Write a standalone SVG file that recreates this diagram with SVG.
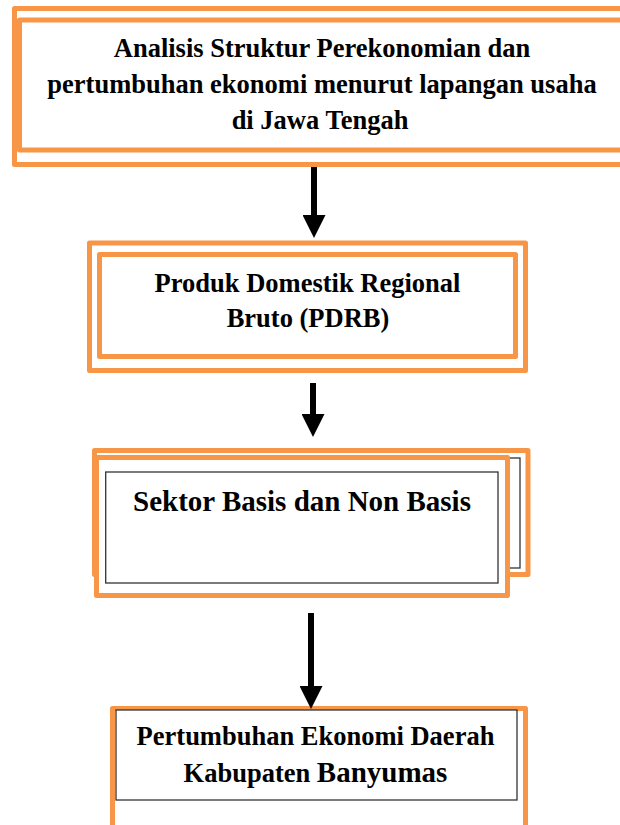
<svg xmlns="http://www.w3.org/2000/svg" width="620" height="825" viewBox="0 0 620 825">
<style>
.ob{fill:none;stroke:#F79646;stroke-width:5;stroke-linejoin:round}
.obw{fill:#fff;stroke:#F79646;stroke-width:5;stroke-linejoin:round}
.bk{fill:#fff;stroke:#333;stroke-width:1.3}
.t{font-family:"Liberation Serif","Times New Roman",serif;font-weight:bold;fill:#000;text-anchor:middle}
.conn{stroke:#000;stroke-width:6;fill:none}
</style>
<defs>
<marker id="ah" markerUnits="userSpaceOnUse" markerWidth="23" markerHeight="23" viewBox="0 0 23 23" refX="0" refY="11.5" orient="auto">
<path d="M0,0 L23,11.5 L0,23 z" fill="#000"/>
</marker>
</defs>
<rect width="620" height="825" fill="#fff"/>
<g id="node1">
<rect class="ob" x="14.5" y="8.5" width="625" height="156"/>
<rect class="ob" x="19.5" y="20" width="620" height="130"/>
<text class="t" font-size="26.5"><tspan x="322" y="57">Analisis Struktur Perekonomian dan</tspan><tspan x="322" y="93">pertumbuhan ekonomi menurut lapangan usaha</tspan><tspan x="320" y="129">di Jawa Tengah</tspan></text>
</g>
<g id="node2">
<rect class="obw" x="89.5" y="243" width="436" height="127.5"/>
<rect class="ob" x="99.5" y="254.5" width="416" height="102"/>
<text class="t" font-size="26.5"><tspan x="307.5" y="292">Produk Domestik Regional</tspan><tspan x="308" y="327">Bruto (PDRB)</tspan></text>
</g>
<g id="node3">
<rect class="obw" x="94.5" y="450.5" width="433.5" height="124"/>
<rect class="bk" x="110" y="458" width="410" height="110"/>
<rect class="obw" x="96.5" y="457.5" width="411" height="138"/>
<rect class="bk" x="105.7" y="472" width="392.3" height="111"/>
<text class="t" font-size="29" x="302" y="511">Sektor Basis dan Non Basis</text>
</g>
<g id="node4">
<rect class="obw" x="112.5" y="708.5" width="413" height="140"/>
<rect class="bk" x="116" y="710" width="401" height="90" stroke-width="1.5"/>
<text class="t" font-size="26.5"><tspan x="315.5" y="745">Pertumbuhan Ekonomi Daerah</tspan><tspan x="315.5" y="782">Kabupaten <tspan font-size="29">Banyumas</tspan></tspan></text>
</g>
<g id="connectors">
<line class="conn" x1="314" y1="167" x2="314" y2="215" marker-end="url(#ah)"/>
<line class="conn" x1="313" y1="383" x2="313" y2="414" marker-end="url(#ah)"/>
<line class="conn" x1="311" y1="613" x2="311" y2="686" marker-end="url(#ah)"/>
</g>
</svg>
